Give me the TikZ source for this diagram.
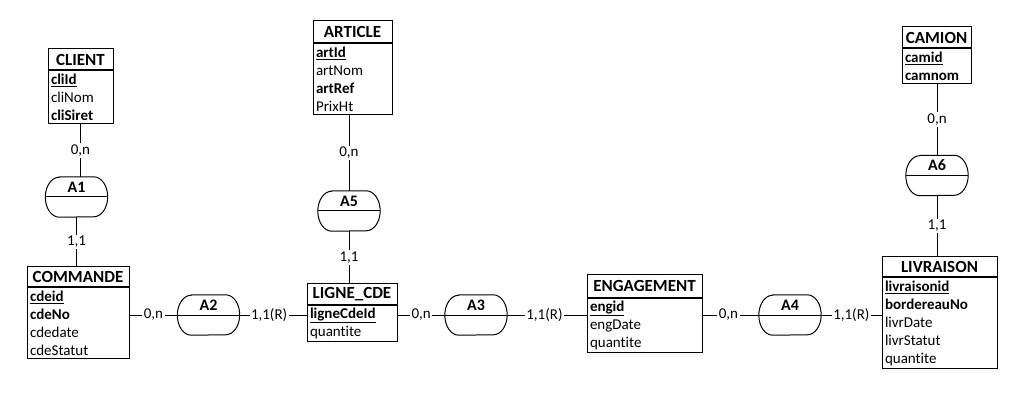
\documentclass[tikz,border=0pt]{standalone}
\usepackage{fontspec}
\setmainfont{Carlito}[Ligatures=NoCommon]
\usetikzlibrary{positioning}

\newcommand{\cle}[1]{\underline{\textbf{#1}}}

\begin{document}
\begin{tikzpicture}[x=1pt, y=-1pt,
    every node/.style={font=\fontsize{15}{18}\selectfont},
    entete/.style={draw, line width=1pt, inner sep=0pt, font=\fontsize{17}{18}\selectfont\bfseries},
    attributs/.style={draw, line width=1pt, anchor=north, align=left, inner xsep=3pt, inner ysep=3pt},
    assoc/.style={minimum width=62pt, minimum height=40pt, inner sep=0pt},
    card/.style={fill=white, inner sep=1.5pt},
    lien/.style={line width=1pt}]
    \useasboundingbox (0,0) rectangle (1033,403);

    \node[entete, minimum width=65pt, minimum height=21pt] (client) at (80.5,59.5) {CLIENT};
    \node[attributs, text width=59pt] (client-att) at (client.south) {\cle{cliId}\\cliNom\\\textbf{cliSiret}};

    \node[entete, minimum width=79pt, minimum height=22pt] (article) at (352.5,32) {ARTICLE};
    \node[attributs, text width=73pt] (article-att) at (article.south) {\cle{artId}\\artNom\\\textbf{artRef}\\PrixHt};

    \node[entete, minimum width=69pt, minimum height=21pt] (camion) at (936.5,37.5) {CAMION};
    \node[attributs, text width=63pt] (camion-att) at (camion.south) {\cle{camid}\\\textbf{camnom}};

    \node[entete, minimum width=102pt, minimum height=20pt] (commande) at (78,277) {COMMANDE};
    \node[attributs, text width=96pt] (commande-att) at (commande.south) {\cle{cdeid}\\\textbf{cdeNo}\\cdedate\\cdeStatut};

    \node[entete, minimum width=90pt, minimum height=20pt] (ligne) at (352,294) {LIGNE\_CDE};
    \node[attributs, text width=84pt] (ligne-att) at (ligne.south) {\cle{ligneCdeId}\\quantite};

    \node[entete, minimum width=115pt, minimum height=22pt] (engagement) at (644.5,286) {ENGAGEMENT};
    \node[attributs, text width=109pt] (engagement-att) at (engagement.south) {\cle{engid}\\engDate\\quantite};

    \node[entete, minimum width=115pt, minimum height=20pt] (livraison) at (939.5,267) {LIVRAISON};
    \node[attributs, text width=109pt] (livraison-att) at (livraison.south) {\cle{livraisonid}\\\textbf{bordereauNo}\\livrDate\\livrStatut\\quantite};

    \foreach \n/\t/\x/\y in {a1/A1/76.5/197, a5/A5/349/211, a6/A6/937/175.5, a2/A2/208.5/315, a3/A3/476/315, a4/A4/790/315} {
        \node[assoc] (\n) at (\x,\y) {};
        \draw[lien] ([xshift=14pt]\n.north west) -- ([xshift=-14pt]\n.north east)
            arc[start angle=90, end angle=-90, x radius=14pt, y radius=20pt]
            -- ([xshift=14pt]\n.south west)
            arc[start angle=270, end angle=90, x radius=14pt, y radius=20pt] -- cycle;
        \draw[lien] (\n.west) -- (\n.east);
        \node[font=\fontsize{16}{18}\selectfont\bfseries] (\n-t) at ([yshift=10pt]\n.center) {\t};
    }

    \draw[lien] (client-att.south) -- (client-att.south |- a1.north) node[card, midway] {0,n};
    \draw[lien] (a1.south) -- (a1.south |- commande.north) node[card, midway] {1,1};
    \draw[lien] (article-att.south -| a5.north) -- (a5.north) node[card, midway] {0,n};
    \draw[lien] (a5.south) -- (a5.south |- ligne.north) node[card, midway] {1,1};
    \draw[lien] (camion-att.south -| a6.north) -- (a6.north) node[card, midway] {0,n};
    \draw[lien] (a6.south) -- (a6.south |- livraison.north) node[card, midway] {1,1};

    \draw[lien] (a2.west -| commande-att.east) -- (a2.west) node[card, midway] {0,n};
    \draw[lien] (a2.east) -- (a2.east -| ligne-att.west) node[card, pos=0.44] {1,1(R)};
    \draw[lien] (a3.west -| ligne-att.east) -- (a3.west) node[card, midway] {0,n};
    \draw[lien] (a3.east) -- (a3.east -| engagement-att.west) node[card, pos=0.47] {1,1(R)};
    \draw[lien] (a4.west -| engagement-att.east) -- (a4.west) node[card, pos=0.46] {0,n};
    \draw[lien] (a4.east) -- (a4.east -| livraison-att.west) node[card, midway] {1,1(R)};
\end{tikzpicture}
\end{document}
